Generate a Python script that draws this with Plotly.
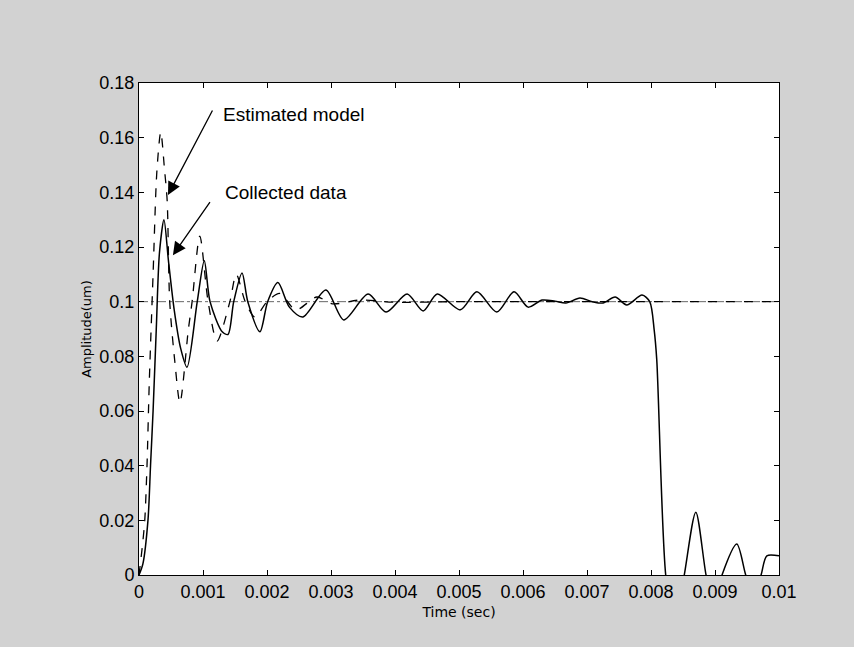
import plotly.graph_objects as go

# Collected data (solid)
collected_t = [0, 0.00006, 0.00014, 0.00018, 0.00022, 0.00027, 0.00032, 0.00039, 0.00046, 0.00055,
               0.00065, 0.00075, 0.00091, 0.00102, 0.00111, 0.0013, 0.00139, 0.00148, 0.00161, 0.0017,
               0.00189, 0.00201, 0.00217, 0.00235, 0.00256, 0.00292, 0.0032, 0.00358, 0.00386, 0.00419,
               0.00444, 0.00466, 0.00502, 0.00528, 0.00559, 0.00586, 0.00608, 0.0063, 0.0065, 0.00667,
               0.00689, 0.00708, 0.00725, 0.00744, 0.00762, 0.00786, 0.00798, 0.00805, 0.00809, 0.00823,
               0.00837, 0.00852, 0.0087, 0.00886, 0.00898, 0.00911, 0.00934, 0.00948, 0.0096, 0.00972,
               0.00981, 0.01]
collected_y = [0, 0.004, 0.02, 0.04, 0.06, 0.09, 0.118, 0.130, 0.115, 0.097,
               0.083, 0.076, 0.100, 0.115, 0.100, 0.089, 0.088, 0.100, 0.1105, 0.100,
               0.089, 0.100, 0.107, 0.098, 0.0944, 0.1043, 0.0933, 0.1028, 0.0962, 0.1028,
               0.0966, 0.1028, 0.097, 0.1036, 0.0962, 0.1036, 0.098, 0.1006, 0.1002, 0.0995,
               0.1013, 0.100, 0.0995, 0.1017, 0.0988, 0.1024, 0.100, 0.0896, 0.0787, 0.0,
               -0.02, 0.0, 0.023, 0.0, -0.012, 0.0, 0.0113, 0.0, -0.008, 0.0,
               0.007, 0.007]

# Estimated model (dashed)
model_t = [0, 0.00005, 0.00009, 0.000125, 0.00016, 0.00022, 0.00028, 0.00034, 0.0004, 0.00044,
           0.00048, 0.00056, 0.00064, 0.00077, 0.00083, 0.00095, 0.00108, 0.00122, 0.00142, 0.00152,
           0.00166, 0.00181, 0.002, 0.0022, 0.00245, 0.00278, 0.00302, 0.00345, 0.004, 0.005, 0.01]
model_y = [0, 0.01, 0.02, 0.04, 0.07, 0.11, 0.148, 0.162, 0.148, 0.137,
           0.100, 0.078, 0.063, 0.0896, 0.100, 0.124, 0.100, 0.0856, 0.100, 0.110,
           0.100, 0.0944, 0.100, 0.103, 0.097, 0.1017, 0.0992, 0.1006, 0.0998, 0.100, 0.100]

# Reference level
ref_t = [0, 0.01]
ref_y = [0.1, 0.1]

x_ticks = [0, 0.001, 0.002, 0.003, 0.004, 0.005, 0.006, 0.007, 0.008, 0.009, 0.01]
x_labels = ["0", "0.001", "0.002", "0.003", "0.004", "0.005", "0.006", "0.007", "0.008", "0.009", "0.01"]
y_ticks = [0, 0.02, 0.04, 0.06, 0.08, 0.1, 0.12, 0.14, 0.16, 0.18]
y_labels = ["0", "0.02", "0.04", "0.06", "0.08", "0.1", "0.12", "0.14", "0.16", "0.18"]

FONT = "Liberation Sans, Arial, sans-serif"
TITLE_FONT = "DejaVu Sans, sans-serif"
BG = "#d2d2d2"

fig = go.Figure()
fig.add_trace(go.Scatter(x=ref_t, y=ref_y, mode="lines",
                         line=dict(color="#666666", width=1, dash="dashdot"), showlegend=False))
fig.add_trace(go.Scatter(x=model_t, y=model_y, mode="lines",
                         line=dict(color="black", width=1.3, dash="dash", shape="spline", smoothing=0.8),
                         showlegend=False))
fig.add_trace(go.Scatter(x=collected_t, y=collected_y, mode="lines",
                         line=dict(color="black", width=1.5, shape="spline", smoothing=0.8),
                         showlegend=False))

fig.add_annotation(x=0.000453, y=0.139, ax=0.00116, ay=0.1705, xref="x", yref="y",
                   axref="x", ayref="y", text="", showarrow=True, arrowhead=2,
                   arrowsize=2, arrowwidth=1.3, arrowcolor="black")
fig.add_annotation(x=0.00053, y=0.117, ax=0.001125, ay=0.137, xref="x", yref="y",
                   axref="x", ayref="y", text="", showarrow=True, arrowhead=2,
                   arrowsize=2, arrowwidth=1.3, arrowcolor="black")
fig.add_annotation(x=0.00128, y=0.1683, xref="x", yref="y", text="Estimated model",
                   showarrow=False, xanchor="left", yanchor="middle",
                   font=dict(family=FONT, size=19, color="black"))
fig.add_annotation(x=0.00131, y=0.1398, xref="x", yref="y", text="Collected data",
                   showarrow=False, xanchor="left", yanchor="middle",
                   font=dict(family=FONT, size=19, color="black"))

fig.update_layout(
    width=854, height=647,
    margin=dict(l=131, r=83, t=75, b=80),
    paper_bgcolor=BG,
    plot_bgcolor="white",
    font=dict(family=FONT, size=18, color="black"),
    showlegend=False,
)
fig.update_xaxes(range=[0, 0.01], tickvals=x_ticks, ticktext=x_labels,
                 showgrid=False, zeroline=False, showline=True, linecolor="black", linewidth=1,
                 mirror="ticks", ticks="inside", ticklen=5, tickcolor="black",
                 title=dict(text="Time (sec)", font=dict(family=TITLE_FONT, size=14), standoff=6))
fig.update_yaxes(range=[0, 0.18], tickvals=y_ticks, ticktext=y_labels,
                 showgrid=False, zeroline=False, showline=True, linecolor="black", linewidth=1,
                 mirror="ticks", ticks="inside", ticklen=5, tickcolor="black",
                 title=dict(text="Amplitude(um)", font=dict(family=TITLE_FONT, size=13), standoff=4))

fig.write_html(
    "out.html",
    post_script="document.body.style.background='%s';document.documentElement.style.background='%s';" % (BG, BG),
)
